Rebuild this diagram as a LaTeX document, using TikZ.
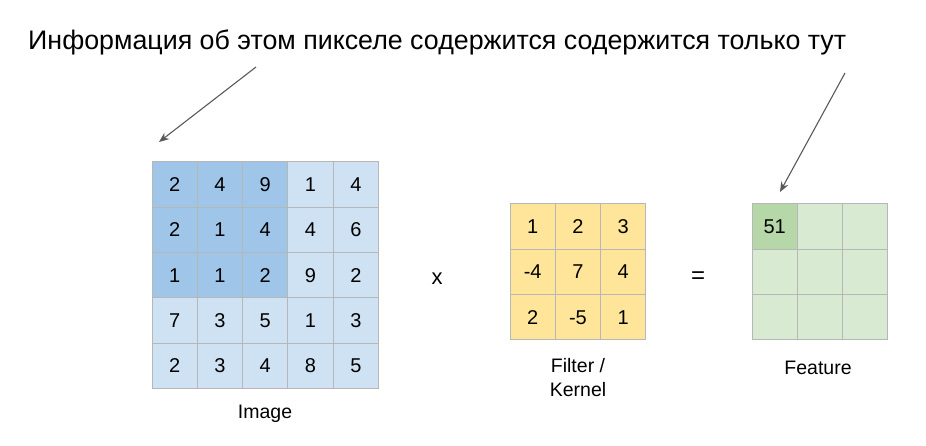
\documentclass[tikz,border=0pt]{standalone}
\usepackage{fontspec}
\setmainfont{Liberation Sans}
\usetikzlibrary{arrows.meta}
\definecolor{imgdark}{HTML}{9FC5E8}
\definecolor{imglight}{HTML}{CFE2F3}
\definecolor{kern}{HTML}{FFE599}
\definecolor{featdark}{HTML}{B6D7A8}
\definecolor{featlight}{HTML}{D9EAD3}
\definecolor{gridline}{HTML}{B7B7B7}
\definecolor{arrowc}{HTML}{595959}
\tikzset{
  cell/.style={draw=gridline, line width=1pt, minimum size=45.3pt, inner sep=0pt, outer sep=0pt, anchor=north west, font=\fontsize{20}{20}\selectfont},
  lbl/.style={font=\fontsize{19.5}{24}\selectfont, align=center, inner sep=0pt},
  pointer/.style={draw=arrowc, line width=1.1pt, -{Stealth[length=10pt,width=8pt]}}
}
\begin{document}
\begin{tikzpicture}[x=1pt,y=-1pt]
\useasboundingbox (0,0) rectangle (926,446);
% title
\node[anchor=base west, inner sep=0pt, font=\fontsize{26.8}{26.8}\selectfont] (title) at (28,50) {Информация об этом пикселе содержится содержится только тут};
% image grid
\foreach \r/\row in {1/{2,4,9,1,4},2/{2,1,4,4,6},3/{1,1,2,9,2},4/{7,3,5,1,3},5/{2,3,4,8,5}}{
  \foreach \v [count=\c] in \row {
    \pgfmathsetmacro{\isdark}{(\r<4)&&(\c<4)}
    \ifdim\isdark pt>0.5pt
      \node[cell, fill=imgdark] (img-\r-\c) at ({152+(\c-1)*45.3},{162+(\r-1)*45.3}) {\v};
    \else
      \node[cell, fill=imglight] (img-\r-\c) at ({152+(\c-1)*45.3},{162+(\r-1)*45.3}) {\v};
    \fi
  }
}
% kernel grid
\foreach \r/\row in {1/{1,2,3},2/{-4,7,4},3/{2,-5,1}}{
  \foreach \v [count=\c] in \row {
    \node[cell, fill=kern] (ker-\r-\c) at ({510+(\c-1)*45.3},{204+(\r-1)*45.3}) {\v};
  }
}
% feature grid
\foreach \r in {1,2,3}{
  \foreach \c in {1,2,3}{
    \node[cell, fill=featlight] (feat-\r-\c) at ({752+(\c-1)*45.3},{204+(\r-1)*45.3}) {};
  }
}
\node[cell, fill=featdark] (feat-1-1) at (752,204) {51};
% operators
\node[lbl, font=\fontsize{22}{22}\selectfont] (times) at (437,279) {x};
\node[lbl, font=\fontsize{24}{24}\selectfont] (equals) at (698,278) {=};
% labels
\node[lbl] (imglbl) at (265,414) {Image};
\node[lbl] (kerlbl) at (578,378) {Filter /\\Kernel};
\node[lbl] (featlbl) at (818,368) {Feature};
% pointers
\coordinate (p1s) at (256,67);
\coordinate (p1e) at (159,142);
\coordinate (p2s) at (845,73);
\coordinate (p2e) at (780,192);
\draw[pointer] (p1s) -- (p1e);
\draw[pointer] (p2s) -- (p2e);
\end{tikzpicture}
\end{document}
